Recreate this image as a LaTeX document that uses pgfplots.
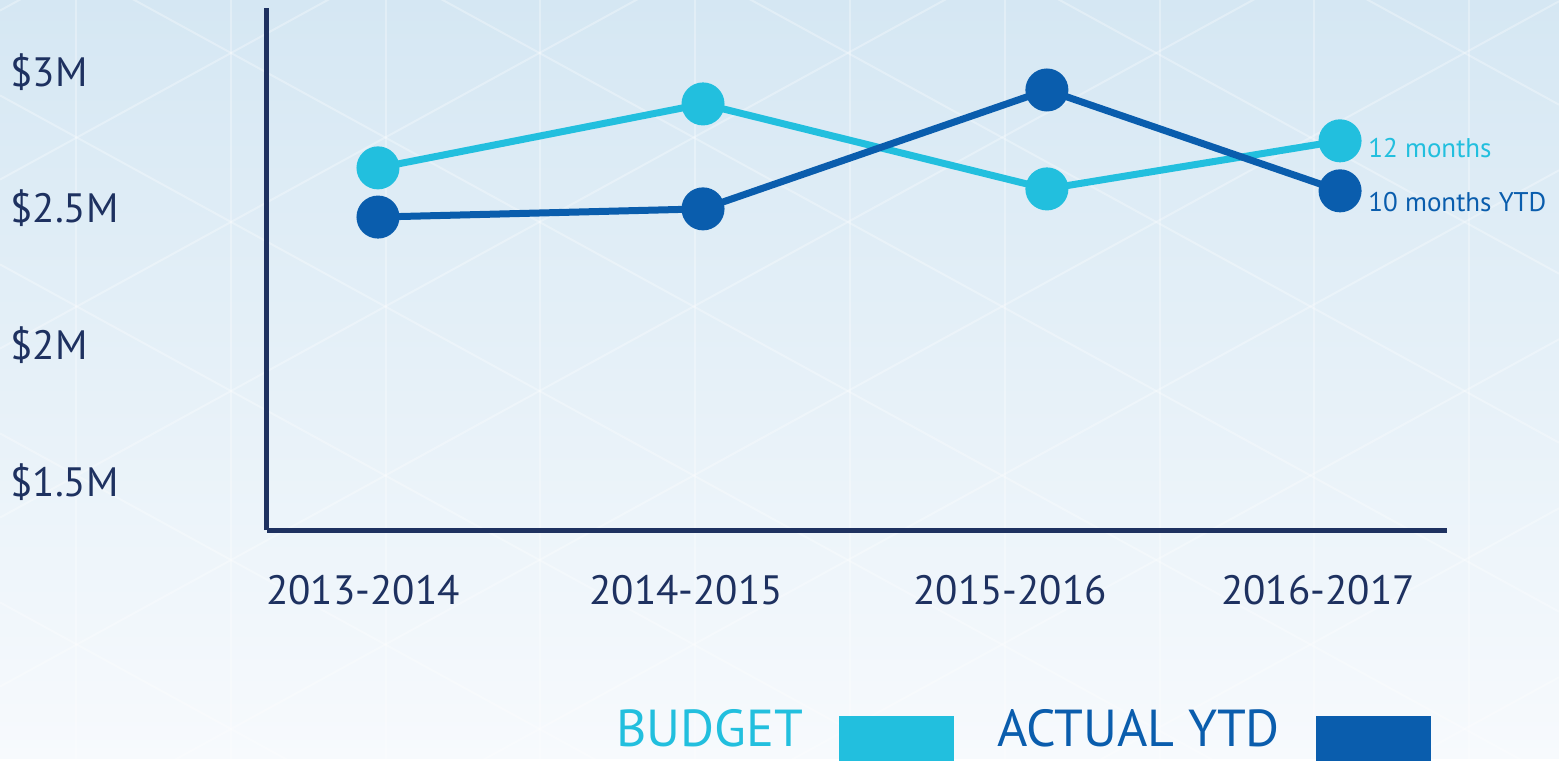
\documentclass[border=0pt]{standalone}
\usepackage{pgfplots}
\pgfplotsset{compat=1.18}
\usepackage{fontspec}
\setmainfont{PT Sans}
\definecolor{navy}{HTML}{1E3160}
\definecolor{budget}{HTML}{22BFDE}
\definecolor{actual}{HTML}{0A5DAD}
\definecolor{bgtop}{HTML}{D5E7F3}
\definecolor{bgbot}{HTML}{F7FAFD}
\begin{document}
\begin{tikzpicture}
% background (pixel grid: 1px = 0.5pt, origin top-left)
\begin{scope}[x=0.5pt,y=-0.5pt,shift={(-133.5pt,265pt)}]
  \useasboundingbox (0,0) rectangle (1559,759);
  \shade[top color=bgtop, bottom color=bgbot] (0,0) rectangle (1559,759);
  \begin{scope}
    \clip (0,0) rectangle (1559,759);
    \begin{scope}[draw=white, line width=1pt, opacity=0.3]
      \foreach \i in {0,...,10} \draw (76+154.8*\i,0) -- ++(0,759);
      \foreach \k in {-6,...,6} \draw (0,-73.6+169*\k) -- (1559,780.7+169*\k);
      \foreach \k in {-3,...,9} \draw (0,179.6+169*\k) -- (1559,-674.7+169*\k);
    \end{scope}
  \end{scope}
\end{scope}
\begin{axis}[
  scale only axis, width=590pt, height=261pt,
  xmin=-0.3415, xmax=3.289, ymin=1.324, ymax=3.234,
  axis x line=bottom, axis y line=left,
  axis line style={-, line width=2.5pt, navy},
  xtick={-0.046,0.948,1.945,2.892},
  xticklabels={2013-2014,2014-2015,2015-2016,2016-2017},
  ytick={1.5,2,2.5,3},
  yticklabels={\$1.5M,\$2M,\$2.5M,\$3M},
  major tick length=0pt,
  tick label style={font=\fontsize{20.5}{24}\selectfont, text=navy, inner sep=0pt},
  xticklabel style={anchor=north, yshift=-22.5pt},
  yticklabel style={anchor=west, xshift=-128.5pt},
  clip=false,
  legend columns=2,
  legend plot pos=right,
  legend cell align=left,
  legend style={draw=none, fill=none, inner sep=0pt, outer sep=0pt,
    at={(0.9864,-0.3927)}, anchor=east,
    nodes={inner sep=0pt, outer sep=0pt},
    font=\fontsize{26}{30}\selectfont,
    /tikz/every odd column/.append style={column sep=18pt},
    /tikz/every even column/.append style={column sep=21.5pt}},
]
\addplot[budget, line width=3.5pt, mark=*, mark size=9pt,
  mark options={draw=none, fill=budget},
  legend image code/.code={\fill[budget] (0pt,-14pt) rectangle (54pt,5pt);}]
  coordinates {(0,2.649) (1,2.883) (2.058,2.572) (2.960,2.748)};
\addlegendentry{\textcolor{budget}{BUDGET}}
\addplot[actual, line width=3.5pt, mark=*, mark size=9pt,
  mark options={draw=none, fill=actual},
  legend image code/.code={\fill[actual] (0pt,-14pt) rectangle (54pt,5pt);}]
  coordinates {(0,2.469) (1,2.499) (2.058,2.934) (2.960,2.565)};
\addlegendentry{\textcolor{actual}{ACTUAL YTD}}
\node[anchor=west, text=budget, font=\fontsize{13.5}{16}\selectfont, inner sep=0pt,
  xshift=14pt, yshift=-3.5pt] at (axis cs:2.960,2.748) {12 months};
\node[anchor=west, text=actual, font=\fontsize{13.5}{16}\selectfont, inner sep=0pt,
  xshift=14pt, yshift=-5.5pt] at (axis cs:2.960,2.565) {10 months YTD};
\end{axis}
\end{tikzpicture}
\end{document}
